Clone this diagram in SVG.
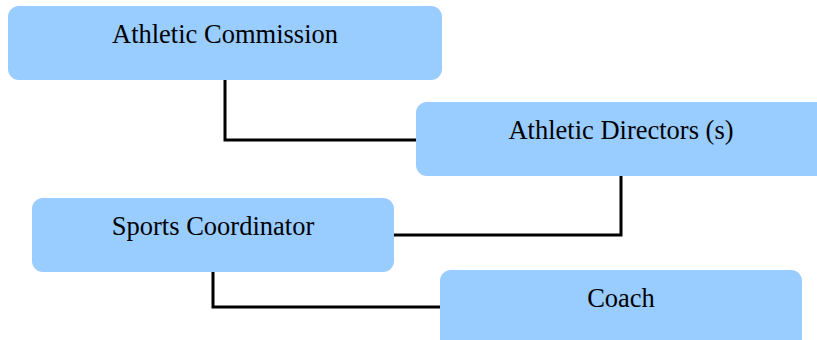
<svg xmlns="http://www.w3.org/2000/svg" width="817" height="340" viewBox="0 0 817 340">
<style>
.box{fill:#99ccff;}
.lbl{font-family:"Liberation Serif","Times New Roman",serif;font-size:26.5px;fill:#000;text-anchor:middle;}
.conn{fill:none;stroke:#000;stroke-width:3;}
</style>
<rect width="817" height="340" fill="#fff"/>
<g id="connectors">
<polyline class="conn" points="225,80 225,140 416,140"/>
<polyline class="conn" points="621,176 621,235 394,235"/>
<polyline class="conn" points="213,272 213,307 440,307"/>
</g>
<g id="athletic-commission">
<rect class="box" x="8" y="6" width="434" height="74" rx="11"/>
<text class="lbl" x="225" y="43">Athletic Commission</text>
</g>
<g id="athletic-directors">
<rect class="box" x="416" y="102" width="412" height="74" rx="11"/>
<text class="lbl" x="621" y="139">Athletic Directors (s)</text>
</g>
<g id="sports-coordinator">
<rect class="box" x="32" y="198" width="362" height="74" rx="11"/>
<text class="lbl" x="213" y="235">Sports Coordinator</text>
</g>
<g id="coach">
<rect class="box" x="440" y="270" width="362" height="84" rx="11"/>
<text class="lbl" x="621" y="307">Coach</text>
</g>
</svg>
